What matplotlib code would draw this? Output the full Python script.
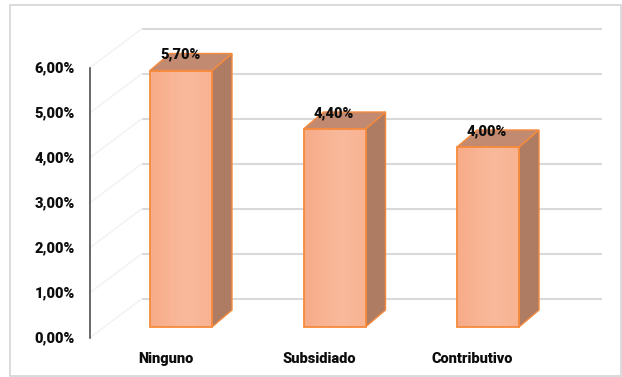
import numpy as np
import matplotlib
matplotlib.use("Agg")
import matplotlib.pyplot as plt
from matplotlib.patches import Polygon, Rectangle
from matplotlib.colors import LinearSegmentedColormap

# ---- data ----
categories = ["Ninguno", "Subsidiado", "Contributivo"]
values = [5.70, 4.40, 4.00]            # percent
y_ticks = [0, 1, 2, 3, 4, 5, 6]
y_tick_labels = ["0,00%", "1,00%", "2,00%", "3,00%", "4,00%", "5,00%", "6,00%"]
value_labels = ["5,70%", "4,40%", "4,00%"]

# ---- figure / pseudo-3D geometry ----
W, H, DPI = 622, 377, 100
fig = plt.figure(figsize=(W / DPI, H / DPI), dpi=DPI)
fig.patch.set_facecolor("white")

# pixel layout of the bar plane
X0_PX, X_STEP_PX = 181.0, 153.5   # centre of first category, spacing
Y0_PX, Y_STEP_PX = 327.0, 45.0    # 0 % baseline, pixels per 1 %

ax = fig.add_axes([0, 0, 1, 1])
ax.axis("off")

# depth vector (front plane -> back wall), in data units
DEPTH = np.array([52.0 / X_STEP_PX, 39.0 / Y_STEP_PX])
FRONT = -0.28 * DEPTH          # plane of the value axis / category labels
BACK = 0.72 * DEPTH            # back wall
BAR_DEPTH = np.array([20.0 / X_STEP_PX, 17.0 / Y_STEP_PX])
BAR_W = 62.0 / X_STEP_PX
X_LEFT, X_RIGHT = -0.5, 2.5
Y_TOP = max(y_ticks)

FONT = dict(fontsize=10.5, fontweight="heavy", family="Roboto", color="#0D0D0D")

grid_c = "#D9D9D9"
wall_c = "#F3F3F3"

# back-wall gridlines
for t in y_ticks:
    ax.plot([X_LEFT + BACK[0], X_RIGHT + BACK[0]], [t + BACK[1], t + BACK[1]],
            color=grid_c, lw=1.5, zorder=1, solid_capstyle="butt")

# faint side-wall lines
for t in y_ticks:
    ax.plot([X_LEFT + FRONT[0], X_LEFT + BACK[0]],
            [t + FRONT[1], t + BACK[1]], color=wall_c, lw=1.2, zorder=1)

# value axis line on the front plane
ax.plot([X_LEFT + FRONT[0]] * 2, [FRONT[1], Y_TOP + FRONT[1]],
        color="#404040", lw=1.1, zorder=2)

# tick labels
lbl_x = X_LEFT + FRONT[0] - 15.0 / X_STEP_PX
for t, s in zip(y_ticks, y_tick_labels):
    ax.text(lbl_x, t + FRONT[1], s, ha="right", va="center", zorder=5, **FONT)

# bars
front_edge = "#F58A3C"
side_c = "#AE7B63"
top_c = "#C28B71"
grad = np.array([[0.1, 0.5, 0.8, 1.0, 0.9, 0.6]])
face_cmap = LinearSegmentedColormap.from_list("face", ["#F7AC89", "#F9B99B"])

for i, (cat, v, vl) in enumerate(zip(categories, values, value_labels)):
    x0 = i - BAR_W / 2
    x1 = i + BAR_W / 2
    dx, dy = BAR_DEPTH
    # side face
    ax.add_patch(Polygon([(x1, 0), (x1 + dx, dy), (x1 + dx, v + dy), (x1, v)],
                         closed=True, facecolor=side_c, edgecolor=front_edge,
                         lw=1.0, zorder=3))
    # top face
    ax.add_patch(Polygon([(x0, v), (x1, v), (x1 + dx, v + dy), (x0 + dx, v + dy)],
                         closed=True, facecolor=top_c, edgecolor=front_edge,
                         lw=1.0, zorder=3))
    # front face with a soft horizontal gradient
    img = ax.imshow(grad, extent=[x0, x1, 0, v], aspect="auto",
                    cmap=face_cmap, interpolation="bicubic", zorder=4)
    img.set_clip_path(Rectangle((x0, 0), BAR_W, v, transform=ax.transData))
    ax.add_patch(Rectangle((x0, 0), BAR_W, v, facecolor="none",
                           edgecolor=front_edge, lw=1.3, zorder=4.5))
    # value label
    ax.text(i - 1.0 / X_STEP_PX, v + 16.0 / Y_STEP_PX, vl, ha="center",
            va="center", zorder=6, **FONT)
    # category label on the front plane
    ax.text(i + FRONT[0] - 0.005, FRONT[1] - 21.0 / Y_STEP_PX, cat,
            ha="center", va="center", zorder=6, **FONT)

ax.set_xlim(-X0_PX / X_STEP_PX, (W - X0_PX) / X_STEP_PX)
ax.set_ylim((Y0_PX - H) / Y_STEP_PX, Y0_PX / Y_STEP_PX)

# outer chart border
fig.patches.append(Rectangle((10 / W, 1 - 376 / H), (W - 11) / W, 371 / H,
                             transform=fig.transFigure, facecolor="none",
                             edgecolor="#D4D4D4", lw=1.2, zorder=0))

fig.savefig("out.png", dpi=DPI)
